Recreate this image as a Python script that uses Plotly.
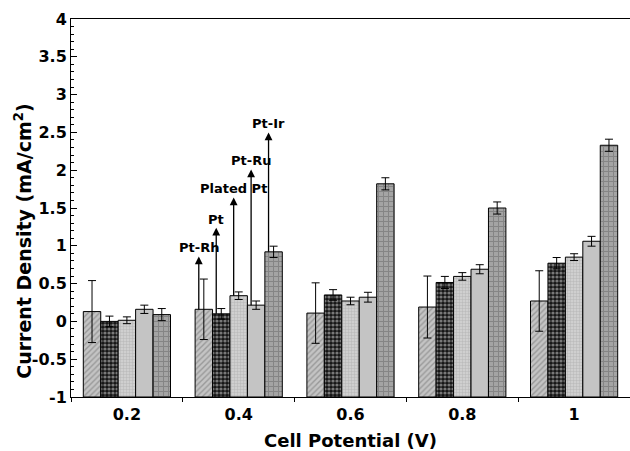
import plotly.graph_objects as go

potentials = ["0.2", "0.4", "0.6", "0.8", "1"]
catalysts = ["Pt-Rh", "Pt", "Plated Pt", "Pt-Ru", "Pt-Ir"]

pt_rh = [0.13, 0.16, 0.11, 0.19, 0.27]
pt_rh_err = [0.41, 0.40, 0.40, 0.41, 0.40]
pt = [0.00, 0.10, 0.35, 0.515, 0.77]
pt_err = [0.07, 0.07, 0.07, 0.08, 0.075]
plated_pt = [0.015, 0.34, 0.27, 0.595, 0.85]
plated_pt_err = [0.045, 0.05, 0.05, 0.05, 0.045]
pt_ru = [0.16, 0.215, 0.32, 0.69, 1.06]
pt_ru_err = [0.055, 0.055, 0.065, 0.06, 0.065]
pt_ir = [0.09, 0.92, 1.82, 1.50, 2.33]
pt_ir_err = [0.08, 0.075, 0.08, 0.08, 0.08]

# arrow tips of the labels (at 0.4 V group)
arrow_tips = [0.86, 1.24, 1.64, 2.01, 2.50]

y_ticks = [-1, -0.5, 0, 0.5, 1, 1.5, 2, 2.5, 3, 3.5, 4]
y_min, y_max = -1, 4

values = [pt_rh, pt, plated_pt, pt_ru, pt_ir]
errors = [pt_rh_err, pt_err, plated_pt_err, pt_ru_err, pt_ir_err]

patterns = [
    dict(shape="/", bgcolor="#c4c4c4", fgcolor="#6e6e6e", size=4, solidity=0.35),
    dict(shape=".", bgcolor="#151515", fgcolor="#dddddd", size=4, solidity=0.5),
    dict(shape="+", bgcolor="#cfcfcf", fgcolor="#939393", size=3, solidity=0.25),
    None,
    dict(shape="+", bgcolor="#a4a4a4", fgcolor="#656565", size=5, solidity=0.35),
]
base_colors = ["#c4c4c4", "#151515", "#cfcfcf", "#c4c4c4", "#a4a4a4"]

fig = go.Figure()
for i, name in enumerate(catalysts):
    marker = dict(color=base_colors[i], line=dict(color="black", width=1))
    if patterns[i] is not None:
        marker["pattern"] = patterns[i]
    fig.add_trace(go.Bar(
        x=potentials, y=[v - y_min for v in values[i]], base=y_min,
        name=name, marker=marker,
        error_y=dict(type="data", array=errors[i], visible=True,
                     color="black", thickness=1, width=4),
    ))

bargap = 0.22
bw = (1 - bargap) / len(catalysts)
grp = 1  # index of "0.4"
for i, name in enumerate(catalysts):
    xc = grp - (1 - bargap) / 2 + bw * (i + 0.5) - 0.045
    base = values[i][grp]
    tip = arrow_tips[i]
    fig.add_annotation(x=xc, y=base, ax=xc, ay=tip, xref="x", yref="y",
                       axref="x", ayref="y", text=name, showarrow=True,
                       arrowside="start", yanchor="bottom",
                       arrowhead=2, startarrowhead=2, startarrowsize=1.2,
                       arrowsize=1.2, arrowwidth=1.3,
                       arrowcolor="black", standoff=0, startstandoff=0,
                       borderpad=0,
                       font=dict(family="DejaVu Sans", size=13, color="black",
                                 weight="bold"))

fig.add_annotation(
    text="Current Density (mA/cm<sup>2</sup>)", textangle=-90,
    xref="paper", yref="paper", x=-0.086, y=0.413,
    xanchor="center", yanchor="middle", showarrow=False,
    font=dict(family="DejaVu Sans", size=19, color="black", weight="bold"),
)

fig.update_layout(
    width=630, height=451,
    margin=dict(l=71, r=0, t=19, b=54),
    barmode="group", bargap=bargap, bargroupgap=0,
    plot_bgcolor="white", paper_bgcolor="white",
    showlegend=False,
    font=dict(family="DejaVu Sans", color="black"),
)
fig.update_xaxes(
    type="category", range=[-0.5, 4.5],
    showline=True, linecolor="black", linewidth=1, mirror=True,
    ticks="outside", tickson="boundaries", ticklen=4, tickcolor="black",
    ticklabelstandoff=3,
    tickfont=dict(family="DejaVu Sans", size=16, weight="bold"),
    title=dict(text="Cell Potential (V)", standoff=12,
               font=dict(family="DejaVu Sans", size=18, weight="bold")),
    showgrid=False,
)
fig.update_yaxes(
    range=[y_min, y_max], tickvals=y_ticks, ticktext=[f"{v:g}" for v in y_ticks],
    showline=True, linecolor="black", linewidth=1,
    ticks="inside", ticklen=6, tickcolor="black",
    minor=dict(dtick=0.1, ticks="inside", ticklen=3, tickcolor="black"),
    tickfont=dict(family="DejaVu Sans", size=16, weight="bold"),
    showgrid=False, zeroline=False,
)

fig.write_html("out.html")
